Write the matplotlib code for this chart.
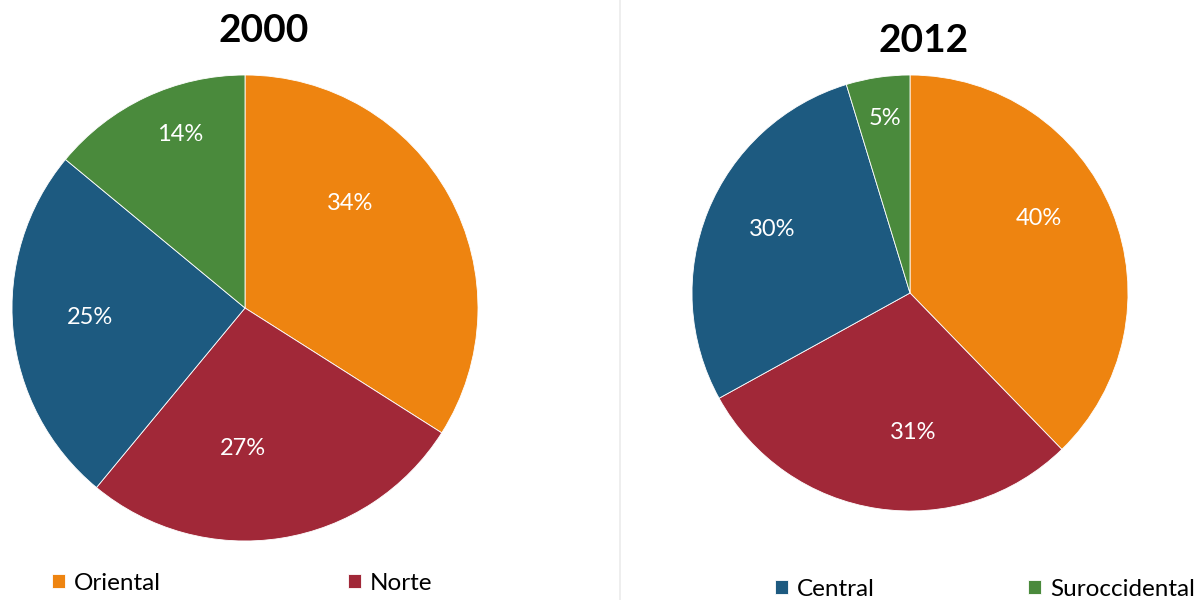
import matplotlib
matplotlib.use("Agg")
import matplotlib.pyplot as plt
from matplotlib.lines import Line2D
import numpy as np

plt.rcParams['font.family'] = ['Lato', 'DejaVu Sans']

# data
regions = ['Oriental', 'Norte', 'Central', 'Suroccidental']
years = ['2000', '2012']
shares_2000 = [34, 27, 25, 14]
shares_2012 = [40, 31, 30, 5]

colors = ['#EE8410', '#A12838', '#1D5A80', '#4A8A3C']

# where the percent labels sit, in pie units (radius 1)
label_xy_2000 = [(0.45, 0.45), (-0.01, -0.605), (-0.665, -0.04), (-0.28, 0.745)]
label_xy_2012 = [(0.59, 0.34), (0.014, -0.64), (-0.63, 0.29), (-0.115, 0.80)]


def draw_pie(ax, values, label_xy):
    wedges, _ = ax.pie(values, colors=colors, startangle=90, counterclock=False,
                       radius=1, wedgeprops=dict(linewidth=0.6, edgecolor='white'))
    for v, (x, y) in zip(values, label_xy):
        ax.text(x, y, '%d%%' % v, ha='center', va='center', color='white', fontsize=17)
    ax.set_xlim(-1, 1)
    ax.set_ylim(-1, 1)
    ax.set_aspect('equal')
    ax.axis('off')
    return wedges


fig = plt.figure(figsize=(11.96, 6), dpi=100)

ax1 = fig.add_axes([12 / 1196, 1 - 541 / 600, 466 / 1196, 466 / 600])
ax2 = fig.add_axes([692 / 1196, 1 - 511 / 600, 436 / 1196, 436 / 600])

w1 = draw_pie(ax1, shares_2000, label_xy_2000)
w2 = draw_pie(ax2, shares_2012, label_xy_2012)

fig.text(264 / 1196, 1 - 30 / 600, years[0], ha='center', va='center',
         fontsize=28, fontweight='bold', color='black')
fig.text(924 / 1196, 1 - 40 / 600, years[1], ha='center', va='center',
         fontsize=28, fontweight='bold', color='black')

# legends (each chart only shows two entries)
leg_kw = dict(ncol=2, frameon=False, fontsize=17.5, handlelength=0.55, handleheight=0.55,
              handletextpad=0.35, borderaxespad=0, borderpad=0)
leg1 = fig.legend(w1[:2], regions[:2], loc='center left',
                  bbox_to_anchor=(52 / 1196, 1 - 583 / 600), columnspacing=7.7, **leg_kw)
leg2 = fig.legend(w2[2:], regions[2:], loc='center left',
                  bbox_to_anchor=(775 / 1196, 1 - 589 / 600), columnspacing=6.3, **leg_kw)

# faint divider between the two charts
fig.add_artist(Line2D([620 / 1196, 620 / 1196], [0, 1], color='#ebebeb', linewidth=1.2))

fig.savefig('out.png', dpi=100, facecolor='white')
